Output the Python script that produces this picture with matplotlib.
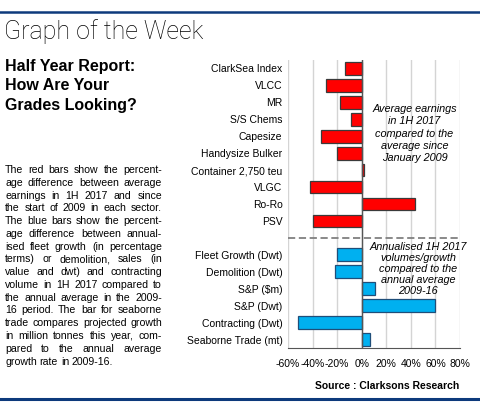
import matplotlib
matplotlib.use("Agg")
import matplotlib.pyplot as plt
from matplotlib.lines import Line2D

W, H = 480, 415

red_labels = ["ClarkSea Index", "VLCC", "MR", "S/S Chems", "Capesize",
              "Handysize Bulker", "Container 2,750 teu", "VLGC", "Ro-Ro", "PSV"]
red_values = [-14, -29, -18, -9, -33, -20, 2, -42, 43, -40]

blue_labels = ["Fleet Growth (Dwt)", "Demolition (Dwt)", "S&P ($m)", "S&P (Dwt)",
               "Contracting (Dwt)", "Seaborne Trade (mt)"]
blue_values = [-20, -22, 11, 60, -52, 7]

xticks = [-60, -40, -20, 0, 20, 40, 60, 80]

para_lines = [
    "The red bars show the percent-",
    "age difference between average",
    "earnings in 1H 2017 and since",
    "the start of 2009 in each sector.",
    "The blue bars show the percent-",
    "age difference between annual-",
    "ised fleet growth (in percentage",
    "terms) or demolition, sales (in",
    "value and dwt) and contracting",
    "volume in 1H 2017 compared to",
    "the annual average in the 2009-",
    "16 period. The bar for seaborne",
    "trade compares projected growth",
    "in million tonnes this year, com-",
    "pared to the annual average",
    "growth rate in 2009-16.",
]

plt.rcParams['font.family'] = ['Liberation Sans', 'DejaVu Sans']

fig = plt.figure(figsize=(W / 100, H / 100), dpi=100)


def fx(px):
    return px / W


def fy(py):
    return 1 - py / H


navy = "#0d3a7c"
fig.add_artist(Line2D([0, 1], [fy(12), fy(12)], color=navy, lw=1.8))
fig.add_artist(Line2D([0, 1], [fy(399), fy(399)], color=navy, lw=2.2))

fig.text(fx(4), fy(32), "Graph of the Week", fontsize=18, family=['Roboto', 'DejaVu Sans'],
         fontweight='light', va='center', ha='left')
for i, s in enumerate(["Half Year Report:", "How Are Your", "Grades Looking?"]):
    fig.text(fx(5), fy(67 + 19 * i), s, fontsize=11.5, fontweight='bold',
             va='center', ha='left')

# justified paragraph
renderer = fig.canvas.get_renderer()
fs = 7.6
x0, x1 = 5, 162
a1 = fig.text(0, 0, "a", fontsize=fs)
a2 = fig.text(0, 0, "a a", fontsize=fs)
space = a2.get_window_extent(renderer).width - 2 * a1.get_window_extent(renderer).width
a1.remove()
a2.remove()
for i, line in enumerate(para_lines):
    y = fy(170 + 12.77 * i)
    words = line.split(" ")
    texts = [fig.text(0, y, w, fontsize=fs, va='center', ha='left') for w in words]
    widths = [t.get_window_extent(renderer).width for t in texts]
    if i == len(para_lines) - 1:
        gap = space
    else:
        gap = (x1 - x0 - sum(widths)) / (len(words) - 1)
    x = x0
    for t, w in zip(texts, widths):
        t.set_x(fx(x))
        x += w + gap

ax = fig.add_axes([fx(288), fy(348), fx(460 - 288), (348 - 60) / H])

red_pos = list(range(len(red_labels)))
blue_pos = [len(red_labels) + 1 + i for i in range(len(blue_labels))]
ax.barh(red_pos, red_values, height=0.75, color="#ff0000", edgecolor="#3a3a3a",
        linewidth=0.9, zorder=3)
ax.barh(blue_pos, blue_values, height=0.75, color="#00b0f0", edgecolor="#1f4e79",
        linewidth=0.9, zorder=3)

ax.set_xlim(-60, 80)
ax.set_ylim(len(red_labels) + len(blue_labels) + 0.5, -0.5)
ax.set_xticks(xticks)
ax.set_xticklabels([f"{v}%" for v in xticks], fontsize=7.5)
ax.set_yticks(red_pos + blue_pos)
ax.set_yticklabels(red_labels + blue_labels, fontsize=7.5)
ax.tick_params(axis='both', length=0, pad=4)
ax.tick_params(axis='x', pad=8)
ax.grid(axis='x', color="#d4d4d4", lw=1.0, zorder=0)
for s in ["left", "right", "top"]:
    ax.spines[s].set_visible(False)
ax.spines["bottom"].set_color("#555555")
ax.axvline(0, color="#555555", lw=1.0, zorder=4)
ax.axhline(len(red_labels), color="#808080", lw=1.3, ls=(0, (4, 2)), zorder=2)

ax.text(43, 3.85, "Average earnings\nin 1H 2017\ncompared to the\naverage since\nJanuary 2009",
        fontsize=7.8, style='italic', ha='center', va='center', linespacing=1.3, zorder=5)
ax.text(46, 11.85, "Annualised 1H 2017\nvolumes/growth\ncompared to the\nannual average\n2009-16",
        fontsize=7.8, style='italic', ha='center', va='center', linespacing=1.12, zorder=5)

fig.text(fx(459), fy(386), "Source : Clarksons Research", fontsize=7.5,
         fontweight='bold', ha='right', va='center')

fig.savefig("out.png", dpi=100)
